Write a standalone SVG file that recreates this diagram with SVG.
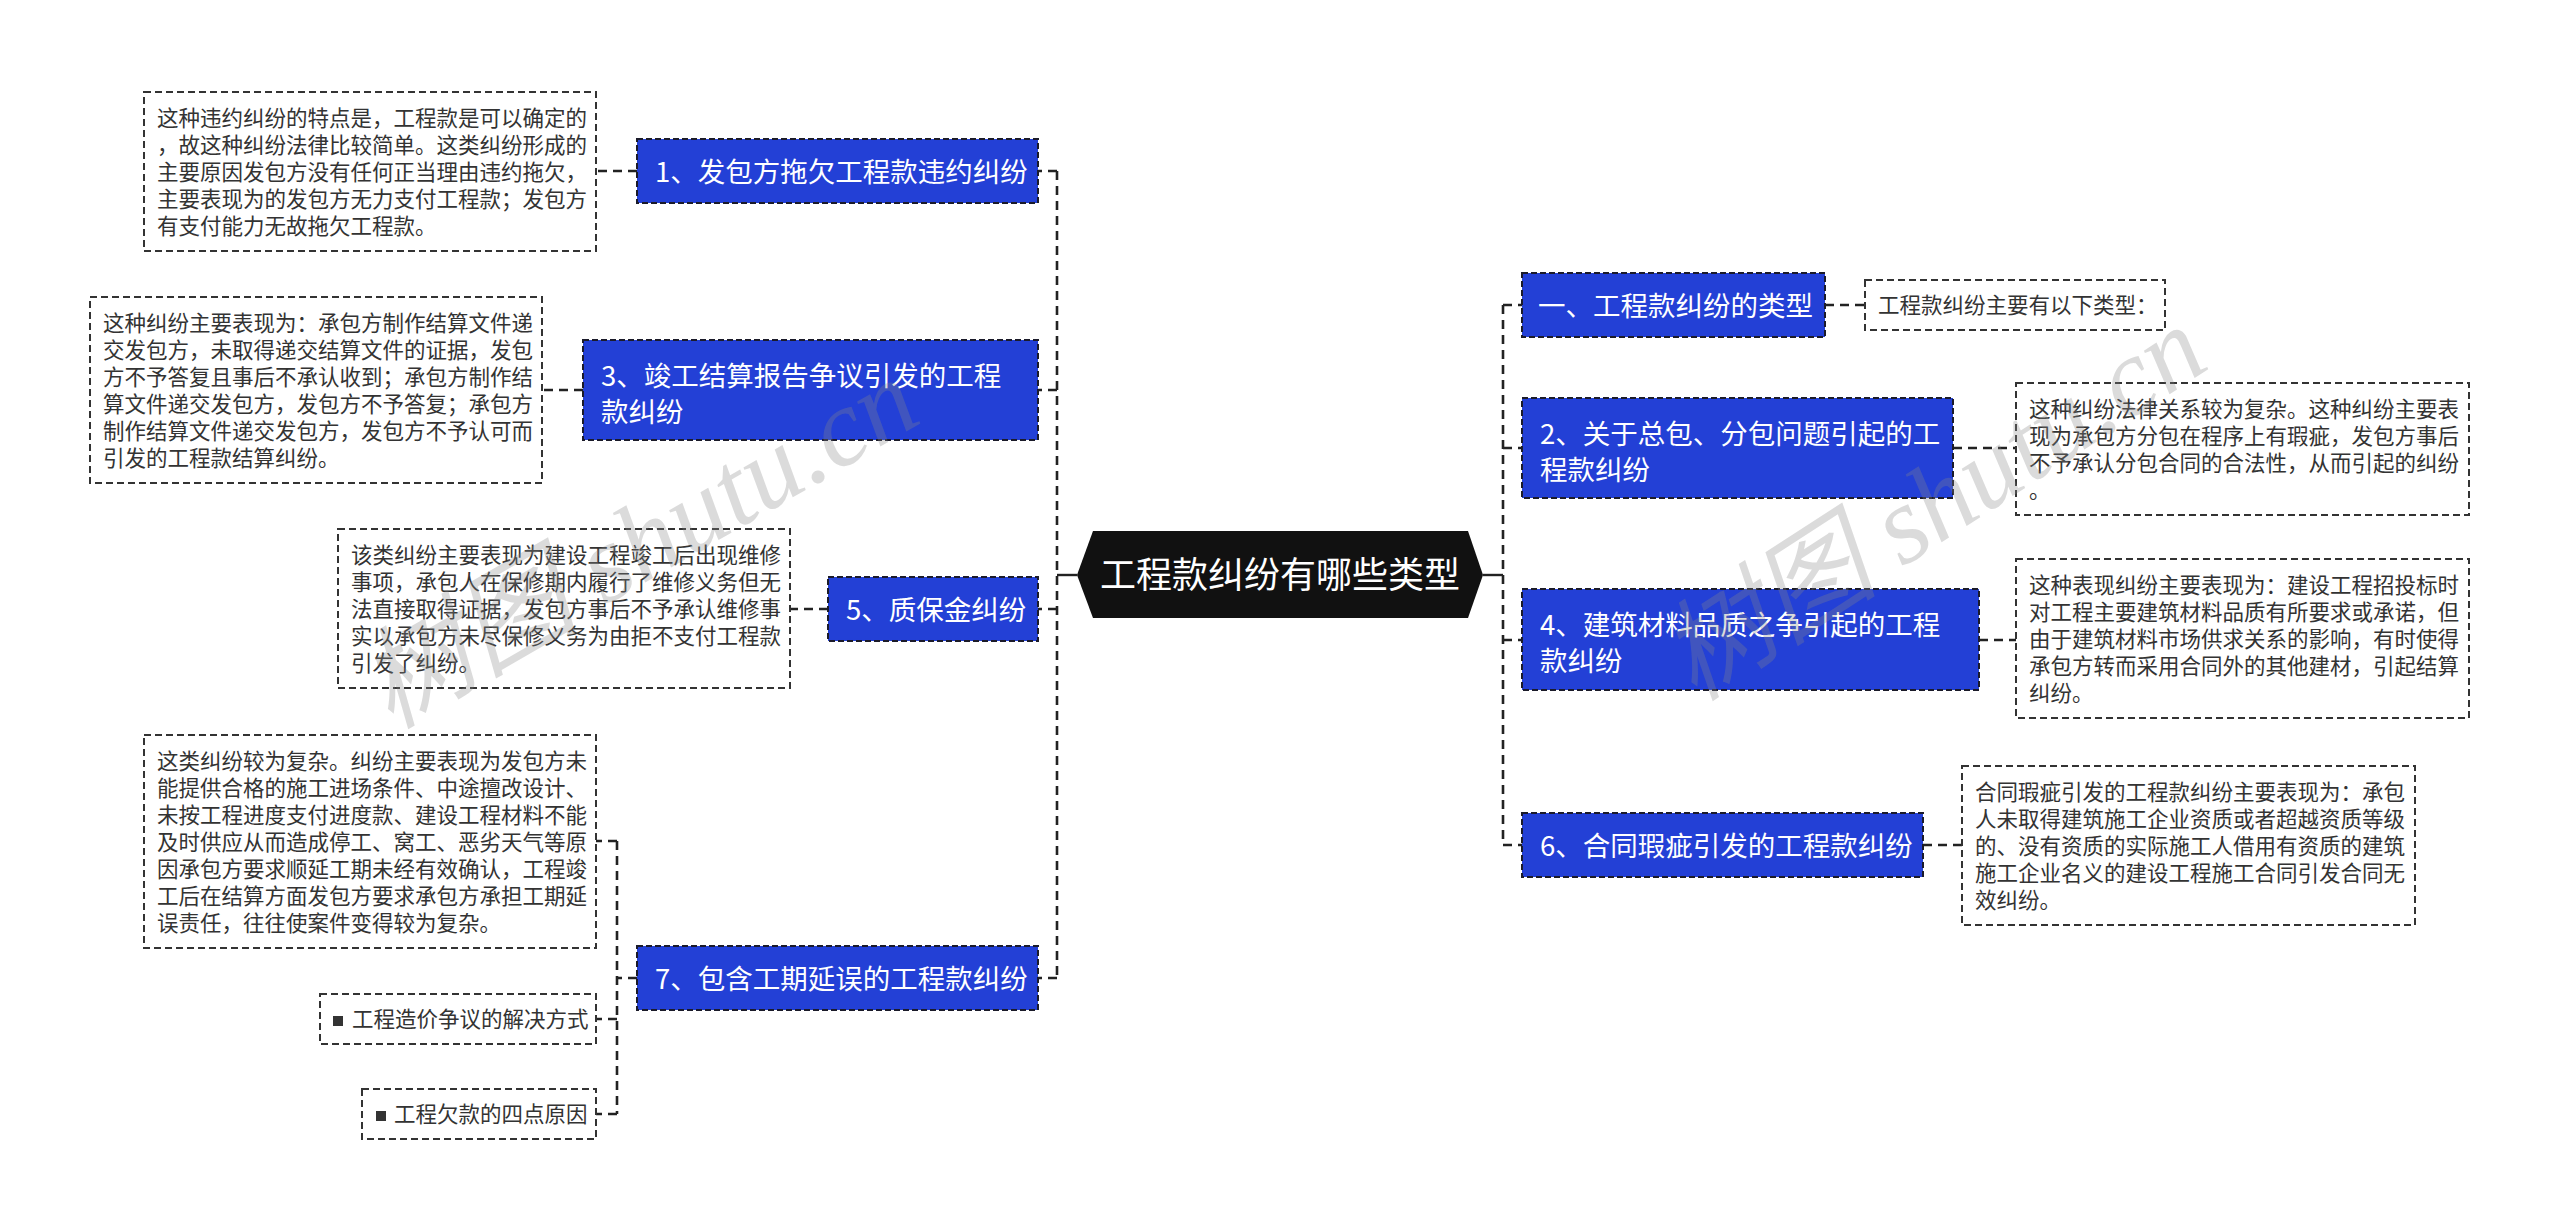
<svg xmlns="http://www.w3.org/2000/svg" width="2560" height="1231" viewBox="0 0 2560 1231">
<style>
.bg{fill:#ffffff}
.blue{fill:#2340d6;stroke:#1b1b2a;stroke-width:2;stroke-dasharray:6 3}
.leaf{fill:#ffffff;stroke:#333333;stroke-width:2;stroke-dasharray:7 4}
.conn{fill:none;stroke:#222222;stroke-width:2.6;stroke-dasharray:9 6}
.solid{fill:none;stroke:#222222;stroke-width:2.4}
.nt{font-family:"Noto Sans CJK SC","Noto Sans",sans-serif;font-size:27.5px;fill:#ffffff}
.lt{font-family:"Noto Sans CJK SC","Noto Sans",sans-serif;font-size:21.5px;fill:#333333}
.ct{font-family:"Noto Sans CJK SC","Noto Sans",sans-serif;font-size:36px;fill:#ffffff}
.wm{font-family:"Liberation Serif","Noto Sans CJK SC",serif;font-style:italic;font-size:110px;fill:#888888;fill-opacity:0.3}
</style>
<rect class="bg" x="0" y="0" width="2560" height="1231"/>

<g id="connectors">
  <path class="solid" d="M1077 575 H1057"/>
  <path class="conn" d="M1057 171 V978"/>
  <path class="conn" d="M1057 171 H1038"/>
  <path class="conn" d="M1057 390 H1038"/>
  <path class="conn" d="M1057 609 H1038"/>
  <path class="conn" d="M1057 978 H1038"/>
  <path class="conn" d="M637 171 H596"/>
  <path class="conn" d="M583 390 H542"/>
  <path class="conn" d="M828 609 H790"/>
  <path class="conn" d="M637 978 H617"/>
  <path class="conn" d="M617 841 V1114"/>
  <path class="conn" d="M617 841 H596"/>
  <path class="conn" d="M617 1019 H596"/>
  <path class="conn" d="M617 1114 H596"/>
  <path class="solid" d="M1483 575 H1503"/>
  <path class="conn" d="M1503 305 V845"/>
  <path class="conn" d="M1503 305 H1522"/>
  <path class="conn" d="M1503 448 H1522"/>
  <path class="conn" d="M1503 640 H1522"/>
  <path class="conn" d="M1503 845 H1522"/>
  <path class="conn" d="M1825 305 H1865"/>
  <path class="conn" d="M1953 448 H2016"/>
  <path class="conn" d="M1979 640 H2016"/>
  <path class="conn" d="M1923 845 H1962"/>
</g>

<g id="center">
  <polygon points="1077,575 1093,531 1468,531 1483,575 1468,618 1093,618" fill="#111111"/>
  <text class="ct" x="1280" y="588" text-anchor="middle">工程款纠纷有哪些类型</text>
</g>

<g id="node1">
  <rect class="blue" x="637" y="139" width="401" height="64"/>
  <text class="nt" x="655" y="181.5">1、发包方拖欠工程款违约纠纷</text>
</g>
<g id="leaf1">
  <rect class="leaf" x="144" y="92" width="452" height="159"/>
  <text class="lt" x="157" y="126">这种违约纠纷的特点是，工程款是可以确定的</text>
  <text class="lt" x="157" y="153">，故这种纠纷法律比较简单。这类纠纷形成的</text>
  <text class="lt" x="157" y="180">主要原因发包方没有任何正当理由违约拖欠，</text>
  <text class="lt" x="157" y="207">主要表现为的发包方无力支付工程款；发包方</text>
  <text class="lt" x="157" y="234">有支付能力无故拖欠工程款。</text>
</g>

<g id="node3">
  <rect class="blue" x="583" y="340" width="455" height="100"/>
  <text class="nt" x="601" y="385.5">3、竣工结算报告争议引发的工程</text>
  <text class="nt" x="601" y="421.5">款纠纷</text>
</g>
<g id="leaf3">
  <rect class="leaf" x="90" y="297" width="452" height="186"/>
  <text class="lt" x="103" y="331">这种纠纷主要表现为：承包方制作结算文件递</text>
  <text class="lt" x="103" y="358">交发包方，未取得递交结算文件的证据，发包</text>
  <text class="lt" x="103" y="385">方不予答复且事后不承认收到；承包方制作结</text>
  <text class="lt" x="103" y="412">算文件递交发包方，发包方不予答复；承包方</text>
  <text class="lt" x="103" y="439">制作结算文件递交发包方，发包方不予认可而</text>
  <text class="lt" x="103" y="466">引发的工程款结算纠纷。</text>
</g>

<g id="node5">
  <rect class="blue" x="828" y="577" width="210" height="64"/>
  <text class="nt" x="846" y="619.5">5、质保金纠纷</text>
</g>
<g id="leaf5">
  <rect class="leaf" x="338" y="529" width="452" height="159"/>
  <text class="lt" x="351" y="563">该类纠纷主要表现为建设工程竣工后出现维修</text>
  <text class="lt" x="351" y="590">事项，承包人在保修期内履行了维修义务但无</text>
  <text class="lt" x="351" y="617">法直接取得证据，发包方事后不予承认维修事</text>
  <text class="lt" x="351" y="644">实以承包方未尽保修义务为由拒不支付工程款</text>
  <text class="lt" x="351" y="671">引发了纠纷。</text>
</g>

<g id="node7">
  <rect class="blue" x="637" y="946" width="401" height="64"/>
  <text class="nt" x="655" y="988.5">7、包含工期延误的工程款纠纷</text>
</g>
<g id="leaf7">
  <rect class="leaf" x="144" y="735" width="452" height="213"/>
  <text class="lt" x="157" y="769">这类纠纷较为复杂。纠纷主要表现为发包方未</text>
  <text class="lt" x="157" y="796">能提供合格的施工进场条件、中途擅改设计、</text>
  <text class="lt" x="157" y="823">未按工程进度支付进度款、建设工程材料不能</text>
  <text class="lt" x="157" y="850">及时供应从而造成停工、窝工、恶劣天气等原</text>
  <text class="lt" x="157" y="877">因承包方要求顺延工期未经有效确认，工程竣</text>
  <text class="lt" x="157" y="904">工后在结算方面发包方要求承包方承担工期延</text>
  <text class="lt" x="157" y="931">误责任，往往使案件变得较为复杂。</text>
</g>
<g id="leaf7b">
  <rect class="leaf" x="320" y="994" width="276" height="50"/>
  <rect x="333" y="1016" width="10" height="10" fill="#333333"/>
  <text class="lt" x="352" y="1027">工程造价争议的解决方式</text>
</g>
<g id="leaf7c">
  <rect class="leaf" x="362" y="1089" width="234" height="50"/>
  <rect x="376" y="1111" width="10" height="10" fill="#333333"/>
  <text class="lt" x="394" y="1122">工程欠款的四点原因</text>
</g>

<g id="nodeA">
  <rect class="blue" x="1522" y="273" width="303" height="64"/>
  <text class="nt" x="1538" y="315.5">一、工程款纠纷的类型</text>
</g>
<g id="leafA">
  <rect class="leaf" x="1865" y="280" width="300" height="50"/>
  <text class="lt" x="1878" y="313">工程款纠纷主要有以下类型：</text>
</g>

<g id="nodeB">
  <rect class="blue" x="1522" y="398" width="431" height="100"/>
  <text class="nt" x="1540" y="443.5">2、关于总包、分包问题引起的工</text>
  <text class="nt" x="1540" y="479.5">程款纠纷</text>
</g>
<g id="leafB">
  <rect class="leaf" x="2016" y="383" width="453" height="132"/>
  <text class="lt" x="2029" y="417">这种纠纷法律关系较为复杂。这种纠纷主要表</text>
  <text class="lt" x="2029" y="444">现为承包方分包在程序上有瑕疵，发包方事后</text>
  <text class="lt" x="2029" y="471">不予承认分包合同的合法性，从而引起的纠纷</text>
  <text class="lt" x="2029" y="498">。</text>
</g>

<g id="nodeC">
  <rect class="blue" x="1522" y="589" width="457" height="101"/>
  <text class="nt" x="1540" y="635">4、建筑材料品质之争引起的工程</text>
  <text class="nt" x="1540" y="671">款纠纷</text>
</g>
<g id="leafC">
  <rect class="leaf" x="2016" y="559" width="453" height="159"/>
  <text class="lt" x="2029" y="593">这种表现纠纷主要表现为：建设工程招投标时</text>
  <text class="lt" x="2029" y="620">对工程主要建筑材料品质有所要求或承诺，但</text>
  <text class="lt" x="2029" y="647">由于建筑材料市场供求关系的影响，有时使得</text>
  <text class="lt" x="2029" y="674">承包方转而采用合同外的其他建材，引起结算</text>
  <text class="lt" x="2029" y="701">纠纷。</text>
</g>

<g id="nodeD">
  <rect class="blue" x="1522" y="813" width="401" height="64"/>
  <text class="nt" x="1540" y="855.5">6、合同瑕疵引发的工程款纠纷</text>
</g>
<g id="leafD">
  <rect class="leaf" x="1962" y="766" width="453" height="159"/>
  <text class="lt" x="1975" y="800">合同瑕疵引发的工程款纠纷主要表现为：承包</text>
  <text class="lt" x="1975" y="827">人未取得建筑施工企业资质或者超越资质等级</text>
  <text class="lt" x="1975" y="854">的、没有资质的实际施工人借用有资质的建筑</text>
  <text class="lt" x="1975" y="881">施工企业名义的建设工程施工合同引发合同无</text>
  <text class="lt" x="1975" y="908">效纠纷。</text>
</g>

<g id="watermarks">
  <text class="wm" x="640" y="580" text-anchor="middle" transform="rotate(-30 640 545)">树图 shutu.cn</text>
  <text class="wm" x="1935" y="540" text-anchor="middle" transform="rotate(-33 1935 506)">树图 shutu.cn</text>
</g>
</svg>
